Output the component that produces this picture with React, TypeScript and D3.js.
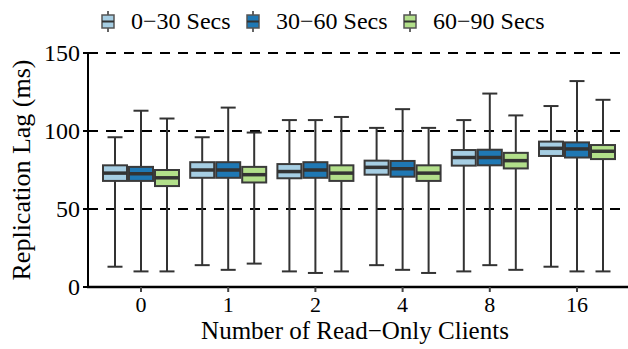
import React, { useEffect, useRef } from 'react';
import * as d3 from 'd3';

const categories = ['0', '1', '2', '4', '8', '16'];
const seriesNames = ['0−30 Secs', '30−60 Secs', '60−90 Secs'];
const seriesColors = ['#a6cee3', '#1f78b4', '#b2df8a'];
const yTicks = [0, 50, 100, 150];

// per series: whisker low, q1, median, q3, whisker high (one entry per category)
const lowVals = [
  [13, 14, 10, 14, 10, 13],
  [10, 11, 9, 11, 14, 10],
  [10, 15, 10, 9, 11, 10],
];
const q1Vals = [
  [68, 70, 69.7, 72, 77.8, 84],
  [68, 70, 70, 70.7, 78, 83],
  [64.7, 67, 68, 68, 76, 82],
];
const medianVals = [
  [73, 75, 74, 76.7, 83, 88.9],
  [72.6, 75, 75, 75.8, 83, 88.5],
  [70, 72, 73, 73, 81, 87],
];
const q3Vals = [
  [78, 80, 78.8, 81, 87.8, 93.2],
  [77, 80, 80, 80.8, 88, 92.7],
  [75, 77, 78, 78, 86, 91],
];
const highVals = [
  [96, 96, 107, 102, 107, 116],
  [113, 115, 107, 114, 124, 132],
  [108, 99, 109, 102, 110, 120],
];

const W = 628;
const H = 349;
const FONT = "'Liberation Serif', 'DejaVu Serif', serif";

const App: React.FC = () => {
  const svgRef = useRef<SVGSVGElement>(null);

  useEffect(() => {
    if (!svgRef.current) return;
    const svg = d3.select(svgRef.current);
    svg.selectAll('*').remove();

    const left = 88;
    const x = d3.scalePoint<string>().domain(categories).range([141, 577]);
    const sub = d3.scalePoint<string>().domain(seriesNames).range([-26, 26]);
    const y = d3.scaleLinear().domain([0, 150]).range([287, 53]);
    const boxW = 24;
    const capW = 15;

    // dashed gridlines
    svg.append('g')
      .selectAll('line')
      .data(yTicks.filter(t => t > 0))
      .join('line')
      .attr('x1', left)
      .attr('x2', W)
      .attr('y1', d => y(d))
      .attr('y2', d => y(d))
      .attr('stroke', '#000')
      .attr('stroke-width', 2)
      .attr('stroke-dasharray', '10,8');

    // boxes
    seriesNames.forEach((name, si) => {
      const g = svg.append('g');
      const off = sub(name) ?? 0;
      const rows = categories.map((c, ci) => ({
        cx: (x(c) ?? 0) + off,
        lo: lowVals[si][ci],
        q1: q1Vals[si][ci],
        med: medianVals[si][ci],
        q3: q3Vals[si][ci],
        hi: highVals[si][ci],
      }));
      const item = g.selectAll('g').data(rows).join('g');
      item.append('line')
        .attr('x1', d => d.cx).attr('x2', d => d.cx)
        .attr('y1', d => y(d.lo)).attr('y2', d => y(d.hi))
        .attr('stroke', '#333').attr('stroke-width', 2);
      item.append('line')
        .attr('x1', d => d.cx - capW / 2).attr('x2', d => d.cx + capW / 2)
        .attr('y1', d => y(d.lo)).attr('y2', d => y(d.lo))
        .attr('stroke', '#333').attr('stroke-width', 2);
      item.append('line')
        .attr('x1', d => d.cx - capW / 2).attr('x2', d => d.cx + capW / 2)
        .attr('y1', d => y(d.hi)).attr('y2', d => y(d.hi))
        .attr('stroke', '#333').attr('stroke-width', 2);
      item.append('rect')
        .attr('x', d => d.cx - boxW / 2)
        .attr('width', boxW)
        .attr('y', d => y(d.q3))
        .attr('height', d => y(d.q1) - y(d.q3))
        .attr('fill', seriesColors[si])
        .attr('stroke', '#3a3a3a')
        .attr('stroke-width', 2);
      item.append('line')
        .attr('x1', d => d.cx - boxW / 2).attr('x2', d => d.cx + boxW / 2)
        .attr('y1', d => y(d.med)).attr('y2', d => y(d.med))
        .attr('stroke', '#333').attr('stroke-width', 3.5);
    });

    // y axis
    svg.append('line')
      .attr('x1', left).attr('x2', left)
      .attr('y1', y(150) - 1).attr('y2', y(0))
      .attr('stroke', '#000').attr('stroke-width', 2);
    const yt = svg.append('g');
    yt.selectAll('line').data(yTicks).join('line')
      .attr('x1', left - 5).attr('x2', left)
      .attr('y1', d => y(d)).attr('y2', d => y(d))
      .attr('stroke', '#000').attr('stroke-width', 2);
    yt.selectAll('text').data(yTicks).join('text')
      .attr('x', left - 8)
      .attr('y', d => y(d))
      .attr('dy', '0.33em')
      .attr('text-anchor', 'end')
      .attr('font-size', 24)
      .text(d => d);

    // x axis
    svg.append('line')
      .attr('x1', left - 1).attr('x2', W)
      .attr('y1', y(0)).attr('y2', y(0))
      .attr('stroke', '#000').attr('stroke-width', 2.5);
    const xt = svg.append('g');
    xt.selectAll('line').data(categories).join('line')
      .attr('x1', d => x(d) ?? 0).attr('x2', d => x(d) ?? 0)
      .attr('y1', y(0)).attr('y2', y(0) + 5)
      .attr('stroke', '#444').attr('stroke-width', 2);
    xt.selectAll('text').data(categories).join('text')
      .attr('x', d => x(d) ?? 0)
      .attr('y', 312)
      .attr('text-anchor', 'middle')
      .attr('font-size', 22)
      .text(d => d);

    // axis titles
    svg.append('text')
      .attr('x', 355)
      .attr('y', 339)
      .attr('text-anchor', 'middle')
      .attr('font-size', 25)
      .text('Number of Read−Only Clients');
    svg.append('text')
      .attr('transform', `translate(30,${(y(0) + y(150)) / 2}) rotate(-90)`)
      .attr('text-anchor', 'middle')
      .attr('font-size', 26)
      .text('Replication Lag (ms)');

    // legend
    const legendX = [108, 253, 410];
    const leg = svg.append('g');
    seriesNames.forEach((name, i) => {
      const lx = legendX[i];
      const lg = leg.append('g');
      lg.append('line')
        .attr('x1', lx).attr('x2', lx)
        .attr('y1', 11).attr('y2', 32)
        .attr('stroke', '#333').attr('stroke-width', 1.5);
      lg.append('rect')
        .attr('x', lx - 6).attr('y', 15)
        .attr('width', 12).attr('height', 13)
        .attr('fill', seriesColors[i])
        .attr('stroke', '#555').attr('stroke-width', 1.5);
      lg.append('line')
        .attr('x1', lx - 6).attr('x2', lx + 6)
        .attr('y1', 21.5).attr('y2', 21.5)
        .attr('stroke', '#333').attr('stroke-width', 2);
      lg.append('text')
        .attr('x', lx + 23)
        .attr('y', 29)
        .attr('font-size', 24)
        .text(name);
    });
  }, []);

  return (
    <svg
      ref={svgRef}
      width={W}
      height={H}
      style={{ position: 'absolute', left: 0, top: 0, background: '#fff', fontFamily: FONT }}
    />
  );
};

export default App;
